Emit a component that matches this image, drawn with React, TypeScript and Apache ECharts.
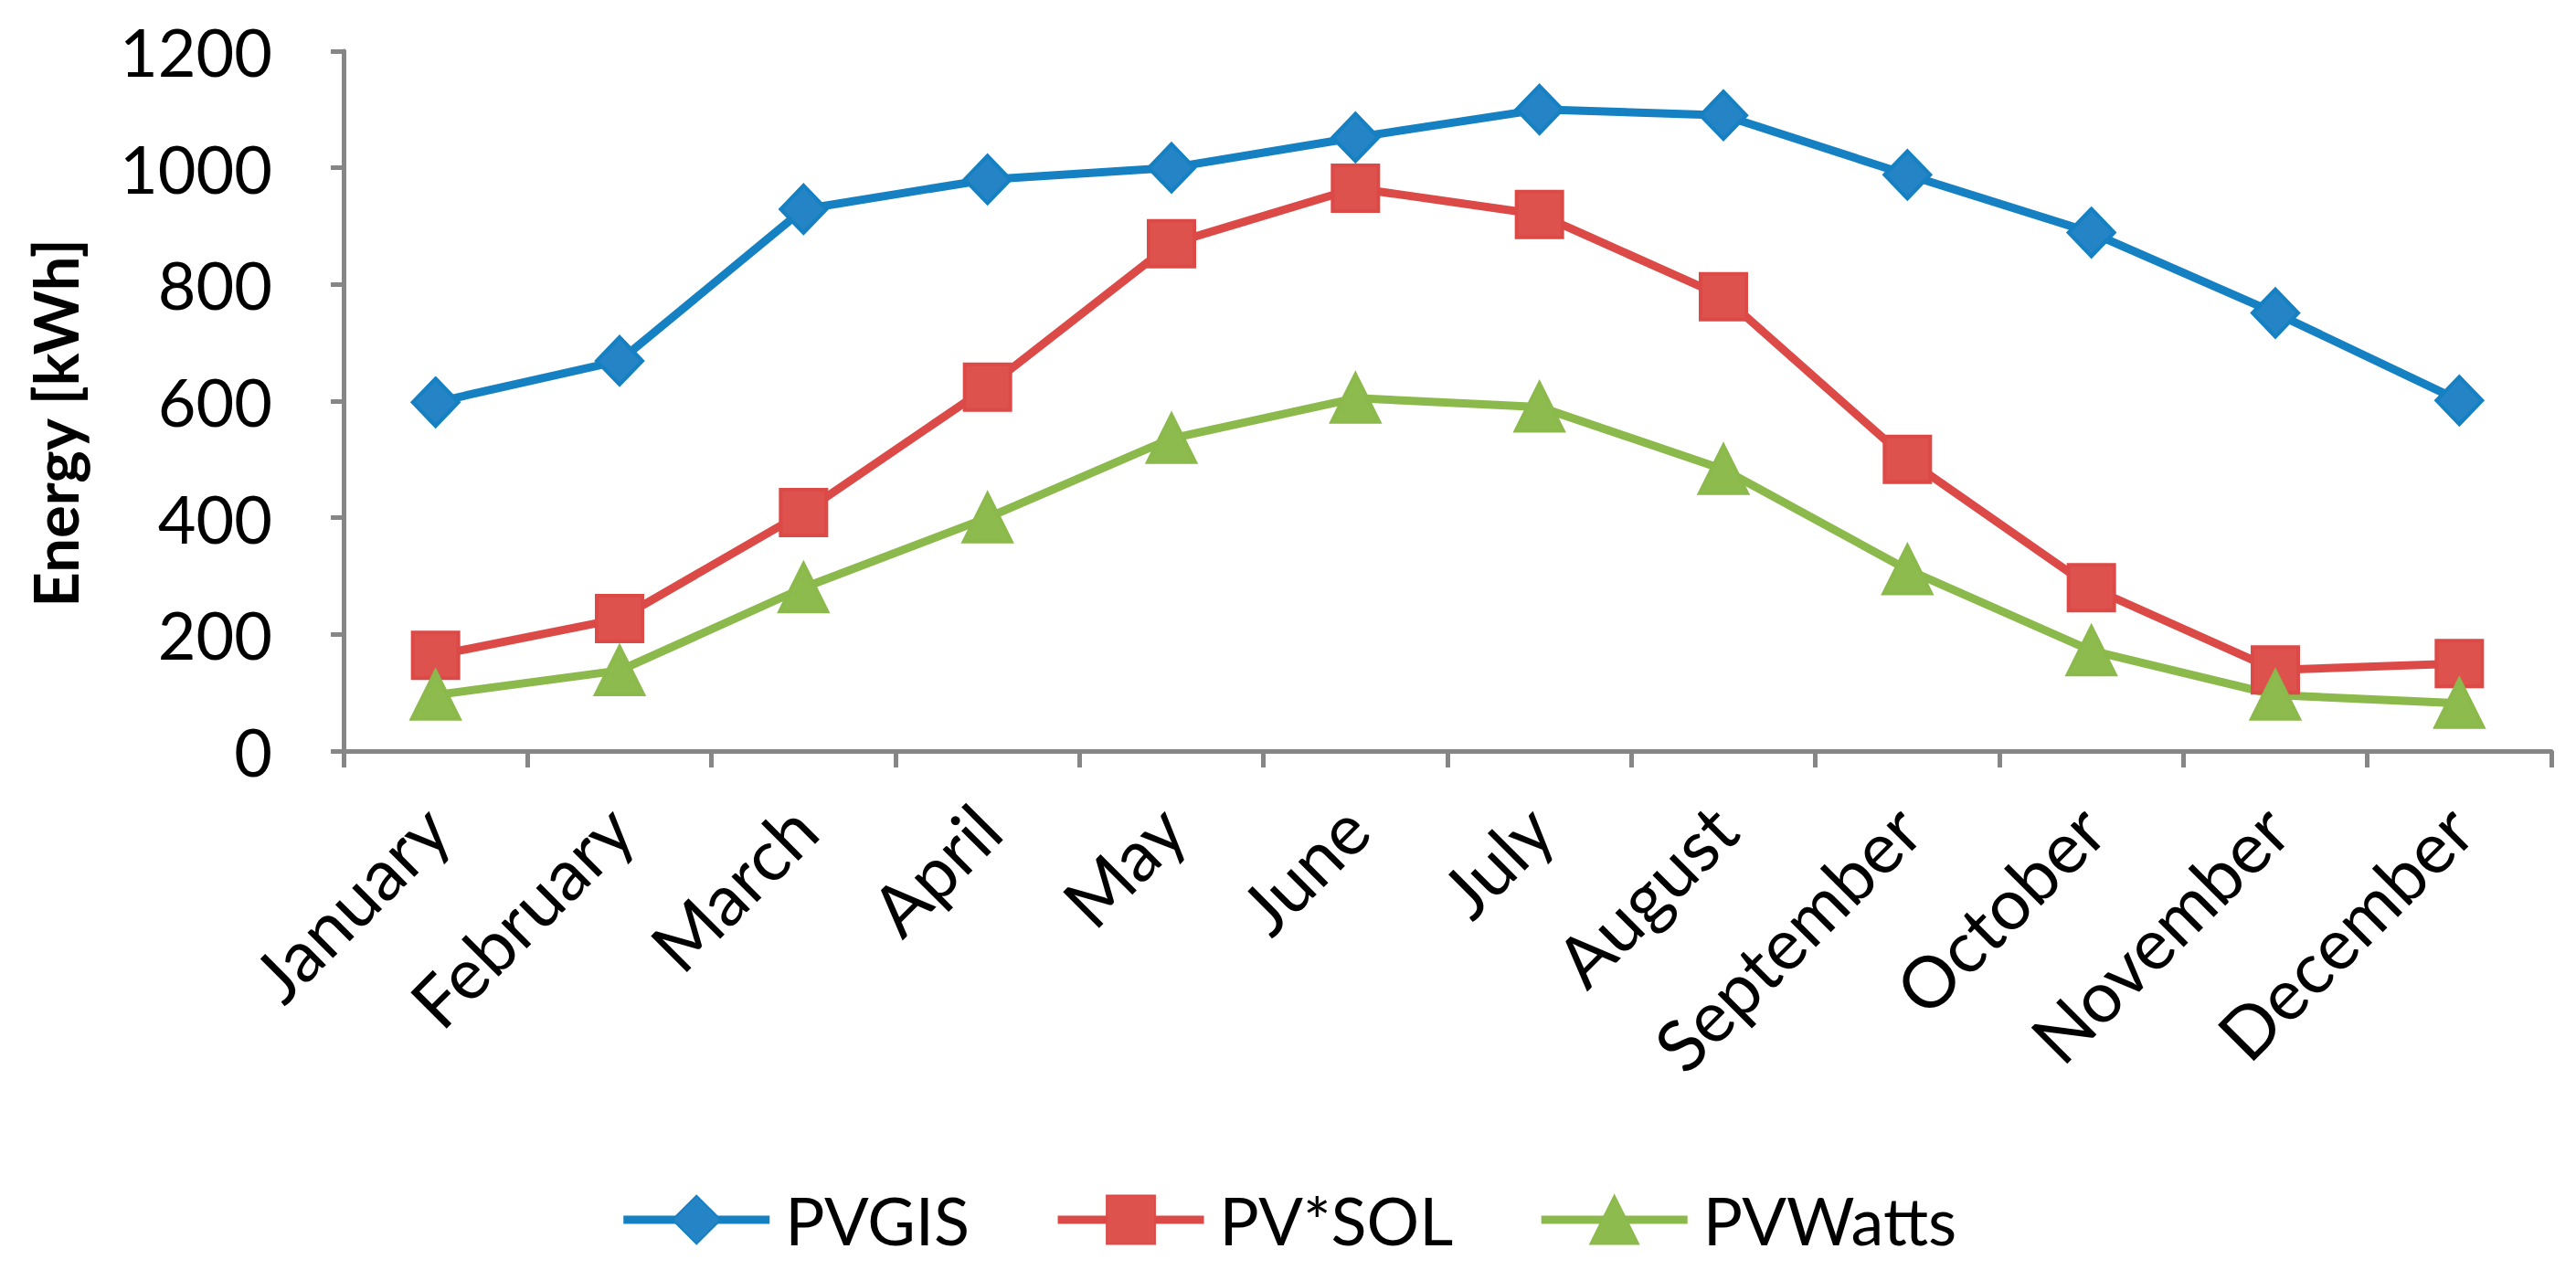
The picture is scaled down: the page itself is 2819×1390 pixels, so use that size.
import React, { useEffect, useRef } from "react";
import * as echarts from "echarts";

const months = [
  "January", "February", "March", "April", "May", "June",
  "July", "August", "September", "October", "November", "December",
];
const pvgis = [598, 669, 929, 980, 1000, 1052, 1100, 1090, 988, 889, 751, 601];
const pvsol = [164, 227, 409, 624, 870, 965, 920, 779, 500, 280, 139, 150];
const pvwatts = [96, 138, 280, 400, 536, 605, 590, 483, 311, 172, 96, 82];
const yTicks = { min: 0, max: 1200, interval: 200 };

const FONT = "Lato";
const AXIS_GRAY = "#868686";

export default function App() {
  const ref = useRef<HTMLDivElement>(null);
  useEffect(() => {
    if (!ref.current) return;
    const chart = echarts.init(ref.current, null, { renderer: "svg" });
    const mk = (name: string, data: number[], line: string, fill: string, symbol: string, size: any) => ({
      name,
      type: "line",
      data,
      symbol,
      symbolSize: size,
      showAllSymbol: true,
      lineStyle: { color: line, width: 9 },
      itemStyle: { color: fill, borderColor: line, borderWidth: 4 },
      emphasis: { disabled: true },
    });
    chart.setOption({
      animation: false,
      backgroundColor: "#ffffff",
      textStyle: { fontFamily: FONT },
      grid: { left: 376, right: 27, top: 56, bottom: 568, containLabel: false },
      legend: {
        left: "center",
        top: 1294,
        padding: [5, 36, 5, 5],
        itemWidth: 160,
        itemHeight: 66,
        itemGap: 92,
        lineStyle: { width: 9 },
        textStyle: { fontSize: 72, color: "#000", fontFamily: FONT, padding: [0, 0, 0, 12] },
        data: ["PVGIS", "PV*SOL", "PVWatts"],
      },
      xAxis: {
        type: "category",
        data: months,
        boundaryGap: true,
        axisLine: { lineStyle: { color: AXIS_GRAY, width: 5 } },
        axisTick: { show: true, interval: 0, length: 18, lineStyle: { color: AXIS_GRAY, width: 5 } },
        axisLabel: {
          interval: 0,
          rotate: 45,
          margin: 72,
          fontSize: 78,
          color: "#000",
          fontFamily: FONT,
        },
        splitLine: { show: false },
      },
      yAxis: {
        type: "value",
        min: yTicks.min,
        max: yTicks.max,
        interval: yTicks.interval,
        name: "Energy [kWh]",
        nameLocation: "middle",
        nameRotate: 90,
        nameGap: 283,
        nameTextStyle: {
          fontSize: 67,
          fontWeight: "bold",
          color: "#000",
          fontFamily: FONT,
          padding: [0, 48, 0, 0],
        },
        axisLine: { show: true, lineStyle: { color: AXIS_GRAY, width: 5 } },
        axisTick: { show: true, length: 14, lineStyle: { color: AXIS_GRAY, width: 5 } },
        axisLabel: {
          fontSize: 72,
          color: "#000",
          margin: 78,
          fontFamily: FONT,
          formatter: (v: number) => String(v),
        },
        splitLine: { show: false },
      },
      series: [
        mk("PVGIS", pvgis, "#1580C2", "#2484C5", "diamond", [50, 52]),
        mk("PV*SOL", pvsol, "#DC4A47", "#DE524E", "rect", 50),
        mk("PVWatts", pvwatts, "#8BB94C", "#8DBB4E", "triangle", 52),
      ],
    });
    return () => chart.dispose();
  }, []);
  return (
    <div
      ref={ref}
      style={{ position: "fixed", left: 0, top: 0, width: 2819, height: 1390, background: "#fff" }}
    />
  );
}
